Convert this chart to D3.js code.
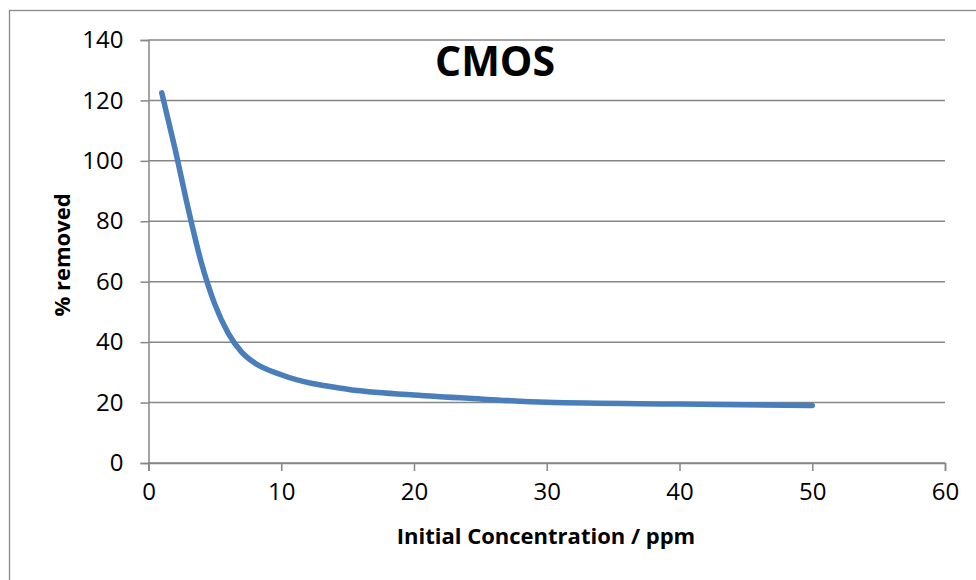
<!DOCTYPE html>
<html>
<head>
<meta charset="utf-8">
<script src="https://cdn.jsdelivr.net/npm/d3@7"></script>
<style>
  body { margin: 0; background: #fff; }
  svg { display: block; }
  .tick text { font-family: "Open Sans", sans-serif; font-size: 24px; fill: #000; }
  .axis-title { font-family: "Open Sans", sans-serif; font-weight: bold; font-size: 22px; fill: #000; }
</style>
</head>
<body>
<div id="chart"></div>
<script>
// readings
const concentration = [1, 2, 3, 4, 5, 6, 7, 8, 10, 15, 20, 25, 30, 40, 50];
const percentRemoved = [122.5, 104, 84, 66, 52.5, 43, 36.8, 33.1, 29.2, 24.4, 22.5, 21.2, 20.1, 19.5, 19.0];
const xTicks = [0, 10, 20, 30, 40, 50, 60];
const yTicks = [0, 20, 40, 60, 80, 100, 120, 140];

const width = 976, height = 580;
const gridColor = "#868686";

const svg = d3.select("#chart").append("svg")
    .attr("width", width)
    .attr("height", height);

// outer chart border (right and bottom run off the page)
svg.append("rect")
    .attr("x", 9.5)
    .attr("y", 10.5)
    .attr("width", 980)
    .attr("height", 600)
    .attr("fill", "none")
    .attr("stroke", "#8a8a8a")
    .attr("stroke-width", 1.3);

const x = d3.scaleLinear().domain([0, 60]).range([148.5, 945]);
const y = d3.scaleLinear().domain([0, 140]).range([463, 40]);

// horizontal gridlines
svg.append("g")
    .selectAll("line")
    .data(yTicks)
    .join("line")
    .attr("x1", x(0))
    .attr("x2", x(60))
    .attr("y1", function(d) { return y(d); })
    .attr("y2", function(d) { return y(d); })
    .attr("stroke", gridColor)
    .attr("stroke-width", 1.5);

const yAxis = svg.append("g")
    .attr("transform", "translate(" + x(0) + ",0)")
    .call(d3.axisLeft(y).tickValues(yTicks).tickSize(8).tickPadding(17));

const xAxis = svg.append("g")
    .attr("transform", "translate(0," + y(0) + ")")
    .call(d3.axisBottom(x).tickValues(xTicks).tickSize(8).tickPadding(12));

[yAxis, xAxis].forEach(function(axis) {
    axis.select(".domain").attr("stroke", gridColor).attr("stroke-width", 1.5);
    axis.selectAll(".tick line").attr("stroke", gridColor).attr("stroke-width", 1.5);
});

const line = d3.line()
    .x(function(d, i) { return x(concentration[i]); })
    .y(function(d) { return y(d); })
    .curve(d3.curveMonotoneX);

svg.append("path")
    .datum(percentRemoved)
    .attr("d", line)
    .attr("fill", "none")
    .attr("stroke", "#4a7ebb")
    .attr("stroke-width", 5.5)
    .attr("stroke-linecap", "round")
    .attr("stroke-linejoin", "round");

svg.append("text")
    .attr("x", 495)
    .attr("y", 76)
    .attr("text-anchor", "middle")
    .style("font-family", "'Open Sans', sans-serif")
    .style("font-weight", "bold")
    .style("font-size", "41px")
    .text("CMOS");

svg.append("text")
    .attr("class", "axis-title")
    .attr("x", 546)
    .attr("y", 544)
    .attr("text-anchor", "middle")
    .text("Initial Concentration / ppm");

svg.append("text")
    .attr("class", "axis-title")
    .attr("transform", "translate(70,255) rotate(-90)")
    .attr("text-anchor", "middle")
    .text("% removed");
</script>
</body>
</html>
